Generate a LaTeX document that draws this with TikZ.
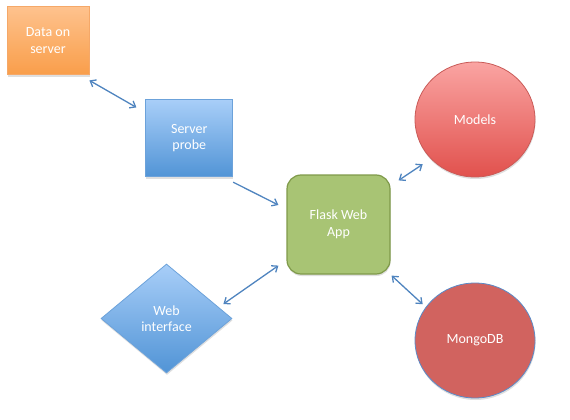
\documentclass[tikz,border=0pt]{standalone}
\usepackage{fontspec}
\setmainfont{Carlito}
\usetikzlibrary{
	positioning,
	shapes.geometric,
	arrows.meta,
	shadows
}

\definecolor{orangetop}{HTML}{FEC28E}
\definecolor{orangebot}{HTML}{F99E4A}
\definecolor{orangeline}{HTML}{F5A868}
\definecolor{bluetop}{HTML}{A8CEF8}
\definecolor{bluebot}{HTML}{5194D6}
\definecolor{blueline}{HTML}{6CA2DA}
\definecolor{greenfill}{HTML}{A8C474}
\definecolor{greenline}{HTML}{7F9A4A}
\definecolor{redtop}{HTML}{FAA4A2}
\definecolor{redbot}{HTML}{E1514D}
\definecolor{redline}{HTML}{C95B58}
\definecolor{mongofill}{HTML}{D1635F}
\definecolor{mongoline}{HTML}{5B8BC8}
\definecolor{linkcolor}{HTML}{4F84BF}

\begin{document}
\begin{tikzpicture}[
	x=1pt, y=-1pt,
	font=\fontsize{14}{16.5}\selectfont,
	shade/.style = {
		drop shadow={opacity=0.25, shadow xshift=0.5pt, shadow yshift=-2pt}
	},
	box/.style = {
		rectangle,
		draw,
		line width=0.8pt,
		text=white,
		align=center,
		inner sep=0pt,
		shade
	},
	orangebox/.style = {
		box,
		draw=orangeline,
		top color=orangetop, bottom color=orangebot,
		minimum width=82pt, minimum height=68pt
	},
	bluebox/.style = {
		box,
		draw=blueline,
		top color=bluetop, bottom color=bluebot,
		minimum width=87pt, minimum height=77pt
	},
	greenbox/.style = {
		box,
		rounded corners=14pt,
		line width=1.2pt,
		draw=greenline,
		fill=greenfill,
		minimum width=103pt, minimum height=99pt
	},
	bubble/.style = {
		box,
		ellipse,
		minimum width=120pt, minimum height=115pt
	},
	rhombus/.style = {
		box,
		diamond,
		draw=blueline,
		top color=bluetop, bottom color=bluebot,
		minimum width=131pt, minimum height=109pt
	},
	link/.style = {
		draw=linkcolor,
		line width=1.3pt,
		>={Straight Barb[length=5pt,width=8pt]}
	},
]
	\useasboundingbox (0,0) rectangle (570,420);

	\node (data) [orangebox] at (48,40.5) {Data on\\server};
	\node (probe) [bluebox, below right=24.5pt and 56pt of data] {Server\\probe};

	\node (flask) [greenbox] at (338.5,224.5) {Flask Web\\App};
	\node (web) [rhombus] at (166.5,318.5) {Web\\interface};

	\node (models) [bubble, draw=redline, top color=redtop, bottom color=redbot] at (475,119.5) {Models};
	\node (mongo) [bubble, draw=mongoline, fill=mongofill] at (475,340.5) {MongoDB};

	\draw[link,<->] ([yshift=-5.5pt]data.south east) -- ([xshift=-9pt,yshift=-8pt]probe.north west);
	\draw[link,->] ([yshift=-5pt]probe.south east) -- ([xshift=-8pt,yshift=19.5pt]flask.west);
	\draw[link,<->] ([xshift=-9pt,yshift=14.5pt]web.east) -- ([xshift=-8pt,yshift=9pt]flask.south west);
	\draw[link,<->] ([xshift=8pt,yshift=-6pt]flask.north east) -- ([xshift=-9.6pt,yshift=-3.8pt]models.south west);
	\draw[link,<->] ([xshift=1pt,yshift=-1pt]flask.south east) -- ([xshift=-9.6pt,yshift=-4.7pt]mongo.north west);
\end{tikzpicture}
\end{document}
